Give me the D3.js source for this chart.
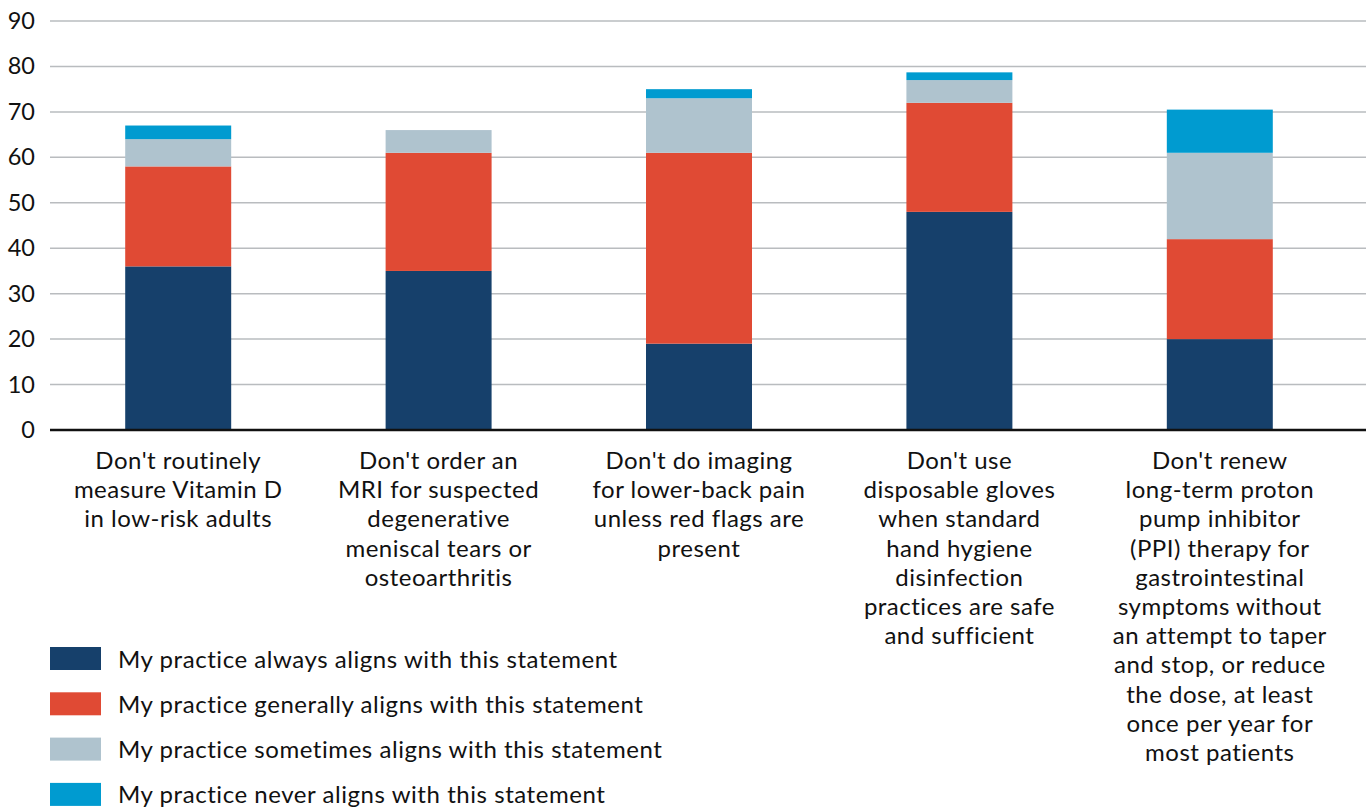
<!DOCTYPE html>
<html>
<head>
<meta charset="utf-8">
<script src="https://cdn.jsdelivr.net/npm/d3@7"></script>
<style>
  body { margin: 0; background: #fff; }
  svg text { font-family: Lato, "Open Sans", sans-serif; fill: #111; }
</style>
</head>
<body>
<div id="chart"></div>
<script>
// Data (percent of respondents)
const categories = [
    ["Don't routinely", "measure Vitamin D", "in low-risk adults"],
    ["Don't order an", "MRI for suspected", "degenerative", "meniscal tears or", "osteoarthritis"],
    ["Don't do imaging", "for lower-back pain", "unless red flags are", "present"],
    ["Don't use", "disposable gloves", "when standard", "hand hygiene", "disinfection", "practices are safe", "and sufficient"],
    ["Don't renew", "long-term proton", "pump inhibitor", "(PPI) therapy for", "gastrointestinal", "symptoms without", "an attempt to taper", "and stop, or reduce", "the dose, at least", "once per year for", "most patients"]
];
const seriesNames = [
    "My practice always aligns with this statement",
    "My practice generally aligns with this statement",
    "My practice sometimes aligns with this statement",
    "My practice never aligns with this statement"
];
const always    = [36, 35, 19, 48, 20];
const generally = [22, 26, 42, 24, 22];
const sometimes = [6, 5, 12, 5, 19];
const never     = [3, 0, 2, 1.7, 9.5];
const yTicks = [0, 10, 20, 30, 40, 50, 60, 70, 80, 90];

const colors = ["#16406b", "#e04a34", "#afc3ce", "#009bd0"];

const W = 1366, H = 808;
const plotLeft = 50, plotRight = 1366, baseY = 430, topY = 21;

const keys = ["always", "generally", "sometimes", "never"];
const table = categories.map((c, i) => ({
    idx: i,
    always: always[i], generally: generally[i], sometimes: sometimes[i], never: never[i]
}));
const stacked = d3.stack().keys(keys)(table);

const svg = d3.select("#chart")
    .append("svg")
    .attr("width", W)
    .attr("height", H);

const x = d3.scaleBand()
    .domain(d3.range(categories.length))
    .range([48, 1350])
    .paddingInner(0.593)
    .paddingOuter(0.2965);

const y = d3.scaleLinear()
    .domain([0, 90])
    .range([baseY, topY]);

// Gridlines
svg.append("g")
    .selectAll("line")
    .data(yTicks.filter(d => d > 0))
    .enter()
    .append("line")
    .attr("x1", plotLeft)
    .attr("x2", plotRight)
    .attr("y1", d => y(d))
    .attr("y2", d => y(d))
    .attr("stroke", "#b9bcbf")
    .attr("stroke-width", 1.5);

// Y axis labels
svg.append("g")
    .attr("transform", `translate(${plotLeft},0)`)
    .call(d3.axisLeft(y).tickValues(yTicks).tickSize(0).tickPadding(15))
    .call(g => g.select(".domain").remove())
    .selectAll("text")
    .style("font-family", "Lato, 'Open Sans', sans-serif")
    .style("font-size", "23.5px")
    .attr("fill", "#111");

// Bars
svg.append("g")
    .selectAll("g")
    .data(stacked)
    .enter()
    .append("g")
    .attr("fill", (d, i) => colors[i])
    .selectAll("rect")
    .data(d => d)
    .enter()
    .append("rect")
    .attr("x", d => x(d.data.idx))
    .attr("width", x.bandwidth())
    .attr("y", d => y(d[1]))
    .attr("height", d => y(d[0]) - y(d[1]));

// Baseline
svg.append("line")
    .attr("x1", plotLeft)
    .attr("x2", plotRight)
    .attr("y1", baseY)
    .attr("y2", baseY)
    .attr("stroke", "#111")
    .attr("stroke-width", 2.5);

// Category labels
const lineH = 29.2;
svg.append("g")
    .selectAll("text")
    .data(categories)
    .enter()
    .append("text")
    .attr("text-anchor", "middle")
    .attr("font-size", "24px")
    .attr("letter-spacing", "0.5px")
    .attr("x", (d, i) => x(i) + x.bandwidth() / 2)
    .attr("y", 469)
    .selectAll("tspan")
    .data(d => d)
    .enter()
    .append("tspan")
    .attr("x", function () { return this.parentNode.getAttribute("x"); })
    .attr("dy", (d, i) => i === 0 ? 0 : lineH)
    .text(d => d);

// Legend
const legend = svg.append("g")
    .selectAll("g")
    .data(seriesNames)
    .enter()
    .append("g")
    .attr("transform", (d, i) => `translate(50,${647 + i * 45.3})`);

legend.append("rect")
    .attr("width", 51)
    .attr("height", 23)
    .attr("fill", (d, i) => colors[i]);

legend.append("text")
    .attr("x", 68)
    .attr("y", 20.5)
    .attr("font-size", "24px")
    .attr("letter-spacing", "0.55px")
    .text(d => d);
</script>
</body>
</html>
